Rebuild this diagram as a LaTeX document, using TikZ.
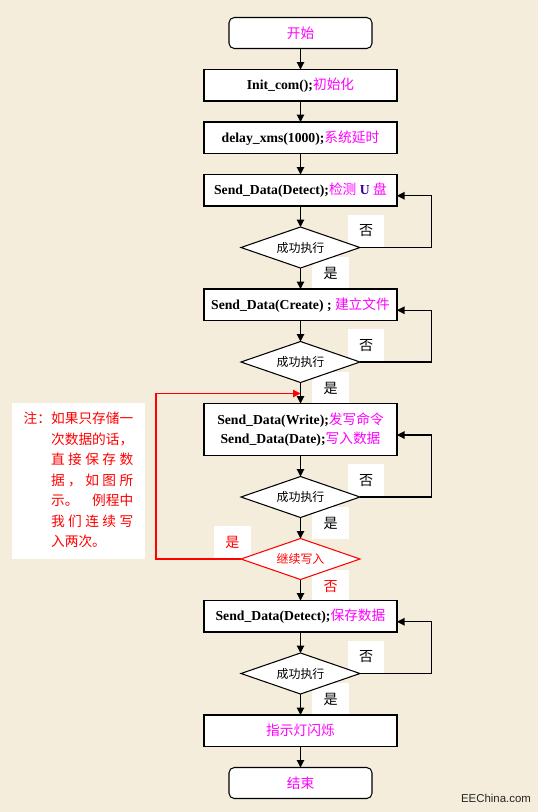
\documentclass[tikz,border=0pt]{standalone}
\usepackage{xcolor}
\usepackage{fontspec}
\setmainfont{Liberation Serif}
\newfontfamily\cjk{Noto Sans CJK SC}
\newfontfamily\wmfont{Liberation Sans}
\usepackage{tikz}
\usetikzlibrary{shapes.geometric,arrows.meta,positioning,calc,backgrounds}
\pgfdeclarelayer{paper}
\pgfsetlayers{paper,background,main}
\definecolor{paper}{RGB}{244,237,220}
\definecolor{zhpink}{RGB}{255,0,255}
\definecolor{ublue}{RGB}{51,0,153}
\definecolor{notered}{RGB}{255,0,0}
\newcommand{\zh}[1]{{\cjk\color{zhpink}#1}}
\newcommand{\fn}[1]{\textbf{#1}}
\newcommand{\spread}[1]{\makebox[6em][s]{#1}}
\tikzset{
  procbox/.style={rectangle, draw=black, fill=white, line width=0.6pt,
    minimum width=3.86cm, minimum height=0.63cm, inner sep=1pt, outer sep=0pt,
    align=center, font=\fontsize{7.8}{10.8}\selectfont},
  termbox/.style={procbox, rounded corners=3pt, minimum width=2.86cm, minimum height=0.62cm},
  testbox/.style={diamond, draw=black, fill=white, line width=0.6pt, aspect=2.9,
    minimum width=2.38cm, minimum height=0.82cm, inner sep=1pt, outer sep=0pt,
    font=\cjk\fontsize{6.8}{8}\selectfont},
  yesno/.style={rectangle, fill=white, minimum width=0.73cm, minimum height=0.65cm,
    inner sep=0pt, font=\cjk\fontsize{8}{9}\selectfont},
  flowarrow/.style={-{Triangle[length=1.5mm,width=1.5mm]}, line width=0.6pt},
}

\begin{document}
\begin{tikzpicture}[node distance=0.42cm]
  \useasboundingbox (0,0) rectangle (10.76,-16.24);
  \begin{pgfonlayer}{paper}
    \fill[paper] (0,0) rectangle (10.76,-16.24);
  \end{pgfonlayer}

  % main column
  \node[termbox] (start) at (6.01,-0.66) {\zh{开始}};
  \node[procbox, below=of start] (init) {\fn{Init\_com();}\zh{初始化}};
  \node[procbox, below=of init] (delay) {\fn{delay\_xms(1000);}\zh{系统延时}};
  \node[procbox, below=of delay] (detect) {\fn{Send\_Data(Detect);}\zh{检测}\ {\color{ublue}\fn{U}}\ \zh{盘}};
  \node[testbox, below=of detect] (chk1) {成功执行};
  \node[procbox, below=of chk1] (create) {\fn{Send\_Data(Create) ;} \zh{建立文件}};
  \node[testbox, below=of create] (chk2) {成功执行};
  \node[procbox, below=of chk2, minimum height=1.04cm] (write) {\fn{Send\_Data(Write);}\zh{发写命令}\\\fn{Send\_Data(Date);}\zh{写入数据}};
  \node[testbox, below=of write] (chk3) {成功执行};
  \node[testbox, draw=notered, text=notered, below=of chk3] (again) {继续写入};
  \node[procbox, below=of again] (save) {\fn{Send\_Data(Detect);}\zh{保存数据}};
  \node[testbox, below=of save] (chk4) {成功执行};
  \node[procbox, below=of chk4] (blink) {\zh{指示灯闪烁}};
  \node[termbox, below=of blink] (stop) {\zh{结束}};

  \foreach \a/\b in {start/init, init/delay, delay/detect, detect/chk1, chk1/create,
      create/chk2, chk2/write, write/chk3, chk3/again, again/save, save/chk4,
      chk4/blink, blink/stop}
    \draw[flowarrow] (\a) -- (\b);

  % retry loops on the right
  \foreach \c/\p in {chk1/detect, chk2/create, chk3/write, chk4/save}
    \draw[flowarrow] (\c.east) -- ++(1.43,0) |- ([yshift=-0.11cm]\p.east);

  % write again: back to the write step
  \coordinate (merge) at ([yshift=-0.22cm]chk2.south);
  \draw[flowarrow, color=notered] (again.west) -- ++(-1.7,0) |- (merge);

  % yes / no tags
  \begin{scope}[on background layer]
    \foreach \c in {chk1, chk2, chk3, chk4} {
      \node[yesno, anchor=south west] at ([xshift=-0.25cm]\c.east) {否};
      \node[yesno, anchor=north west] at ($(\c.center)+(0.23,-0.19)$) {是};
    }
    \node[yesno, anchor=south east, text=notered] (again-yes) at ([xshift=0.2cm]again.west) {是};
    \node[yesno, anchor=north west, text=notered] (again-no) at ($(again.center)+(0.23,-0.21)$) {否};
  \end{scope}

  % note
  \node[fill=white, minimum width=2.66cm, minimum height=3.12cm, inner sep=0pt,
    text=notered, font=\cjk\fontsize{7.8}{11.7}\selectfont] (note) at (1.57,-9.62) {%
    \begin{tabular}{@{}l@{}l@{}}
      注：& 如果只存储一\\
          & 次数据的话，\\
          & \spread{直\hfil 接\hfil 保\hfil 存\hfil 数}\\
          & \spread{据\hfil ，\hfil 如\hfil 图\hfil 所}\\
          & \spread{示。\hfill 例程中}\\
          & \spread{我\hfil 们\hfil 连\hfil 续\hfil 写}\\
          & 入两次。
    \end{tabular}};

  \node[font=\wmfont\fontsize{6.5}{7}\selectfont, text=black!85] (mark) at (9.92,-15.97) {EEChina.com};
\end{tikzpicture}
\end{document}
